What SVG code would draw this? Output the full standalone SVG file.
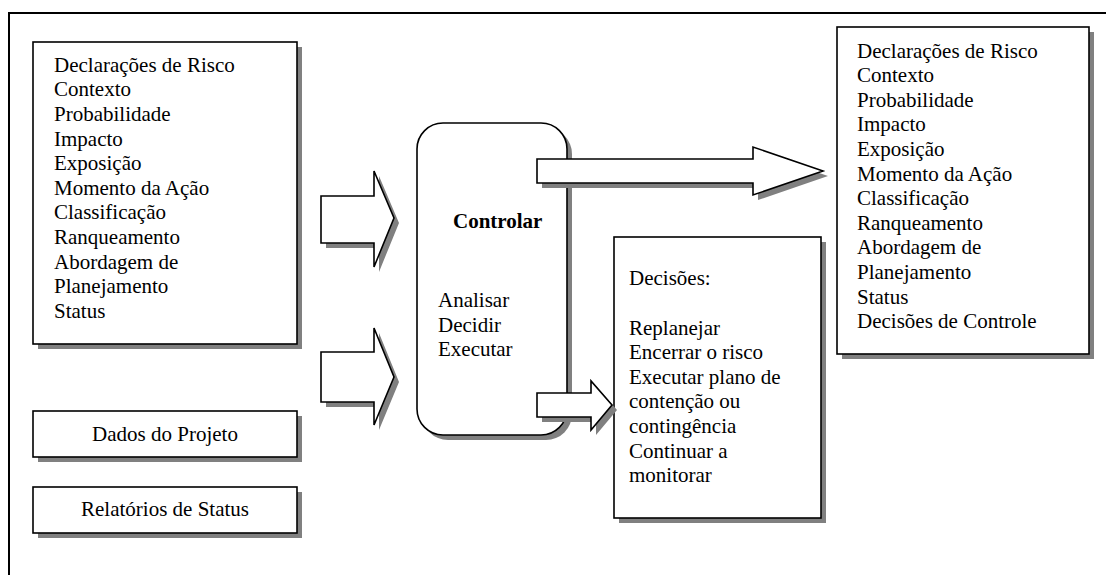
<svg xmlns="http://www.w3.org/2000/svg" width="1106" height="575" viewBox="0 0 1106 575">
<style>
.frame{fill:none;stroke:#000;stroke-width:2}
.box{fill:#fff;stroke:#000;stroke-width:1.6}
.sh{fill:#808080;stroke:none}
text{font-family:'Liberation Serif','Times New Roman',serif;font-size:21px;fill:#000}
.b{font-weight:bold}
.arr{fill:#fff;stroke:#000;stroke-width:1.6;stroke-linejoin:miter}
</style>
<rect x="0" y="0" width="1106" height="575" fill="#fff"/>
<rect class="frame" x="9" y="13" width="1120" height="600"/>

<g id="entradas">
<rect class="sh" x="38" y="47" width="264" height="302"/>
<rect class="box" x="33" y="42" width="264" height="302"/>
<text x="54" y="71.7">Declarações de Risco</text>
<text x="54" y="96.3">Contexto</text>
<text x="54" y="120.9">Probabilidade</text>
<text x="54" y="145.5">Impacto</text>
<text x="54" y="170.1">Exposição</text>
<text x="54" y="194.7">Momento da Ação</text>
<text x="54" y="219.3">Classificação</text>
<text x="54" y="243.9">Ranqueamento</text>
<text x="54" y="268.5">Abordagem de</text>
<text x="54" y="293.1">Planejamento</text>
<text x="54" y="317.7">Status</text>
</g>

<g id="dados">
<rect class="sh" x="38" y="416" width="264" height="46"/>
<rect class="box" x="33" y="411" width="264" height="46"/>
<text x="165" y="441" text-anchor="middle">Dados do Projeto</text>
</g>

<g id="relatorios">
<rect class="sh" x="38" y="492" width="264" height="46"/>
<rect class="box" x="33" y="487" width="264" height="46"/>
<text x="165" y="516" text-anchor="middle">Relatórios de Status</text>
</g>

<g id="controlar">
<rect class="sh" x="422" y="128" width="150" height="312" rx="26" ry="26"/>
<rect class="box" x="417" y="123" width="150" height="312" rx="26" ry="26"/>
<text class="b" x="453" y="228">Controlar</text>
<text x="438" y="307">Analisar</text>
<text x="438" y="331.6">Decidir</text>
<text x="438" y="356">Executar</text>
</g>

<g id="decisoes">
<rect class="sh" x="619" y="242" width="207" height="281"/>
<rect class="box" x="614" y="237" width="207" height="281"/>
<text x="629" y="285">Decisões:</text>
<text x="629" y="334.5">Replanejar</text>
<text x="629" y="359.1">Encerrar o risco</text>
<text x="629" y="383.7">Executar plano de</text>
<text x="629" y="408.3">contenção ou</text>
<text x="629" y="432.9">contingência</text>
<text x="629" y="457.5">Continuar a</text>
<text x="629" y="482.1">monitorar</text>
</g>

<g id="saidas">
<rect class="sh" x="842" y="32" width="252" height="327"/>
<rect class="box" x="837" y="27" width="252" height="327"/>
<text x="857" y="57.5">Declarações de Risco</text>
<text x="857" y="82.1">Contexto</text>
<text x="857" y="106.7">Probabilidade</text>
<text x="857" y="131.3">Impacto</text>
<text x="857" y="155.9">Exposição</text>
<text x="857" y="180.5">Momento da Ação</text>
<text x="857" y="205.1">Classificação</text>
<text x="857" y="229.7">Ranqueamento</text>
<text x="857" y="254.3">Abordagem de</text>
<text x="857" y="278.9">Planejamento</text>
<text x="857" y="303.5">Status</text>
<text x="857" y="328.1">Decisões de Controle</text>
</g>

<g id="conectores">
<g transform="translate(5,5)" class="sh">
<polygon points="321,196 374,196 374,171 394,218 374,267 374,243 321,243"/>
<polygon points="321,352 374,352 374,328 394,377 374,425 374,402 321,402"/>
<polygon points="537,159 753,159 753,147 823,171 753,195 753,183 537,183"/>
<polygon points="537,393 591,393 591,381 612,405 591,430 591,417 537,417"/>
</g>
<polygon class="arr" points="321,196 374,196 374,171 394,218 374,267 374,243 321,243"/>
<polygon class="arr" points="321,352 374,352 374,328 394,377 374,425 374,402 321,402"/>
<polygon class="arr" points="537,159 753,159 753,147 823,171 753,195 753,183 537,183"/>
<polygon class="arr" points="537,393 591,393 591,381 612,405 591,430 591,417 537,417"/>
</g>
</svg>
